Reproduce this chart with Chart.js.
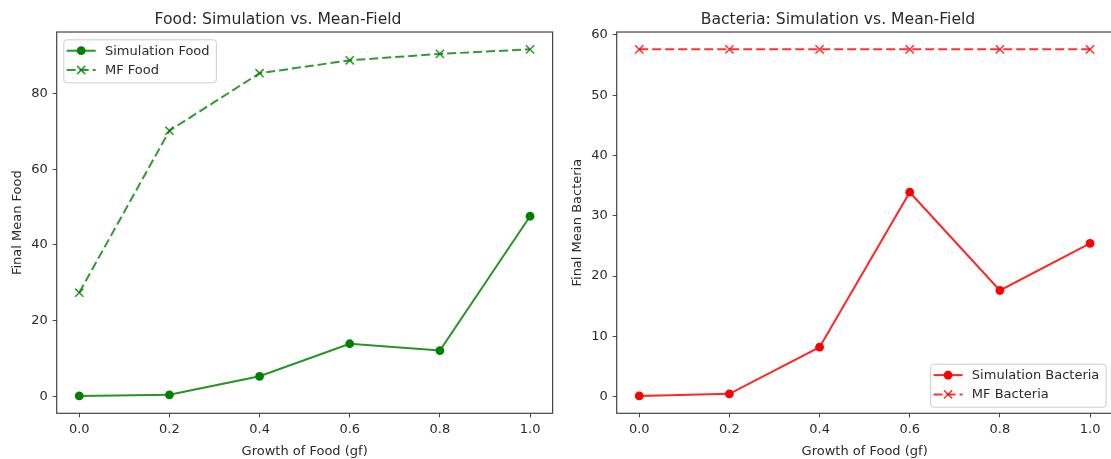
<!DOCTYPE html>
<html>
<head>
<meta charset="utf-8">
<script src="https://cdn.jsdelivr.net/npm/chart.js@4.4.0/dist/chart.umd.min.js"></script>
<style>
    body { margin: 0; background: #fff; overflow: hidden; width: 1111px; height: 459px; position: relative; }
    .box { position: absolute; top: 0; width: 560px; height: 459px; }
</style>
</head>
<body>
<div class="box" style="left:0"><canvas id="foodChart" width="560" height="459"></canvas></div>
<div class="box" style="left:560px"><canvas id="bacteriaChart" width="560" height="459"></canvas></div>
<script>
// growth of food values (x axis)
const gf = [0.0, 0.2, 0.4, 0.6, 0.8, 1.0]
const xTicks = [0.0, 0.2, 0.4, 0.6, 0.8, 1.0]

// values
const simFood = [0.1, 0.4, 5.3, 13.9, 12.1, 47.6]
const mfFood = [27.4, 70.2, 85.4, 88.8, 90.5, 91.7]
const simBacteria = [0.1, 0.45, 8.2, 33.9, 17.6, 25.4]
const mfBacteria = [57.6, 57.6, 57.6, 57.6, 57.6, 57.6]

const foodTicks = [0, 20, 40, 60, 80]
const bacteriaTicks = [0, 10, 20, 30, 40, 50, 60]

const textColor = "#2a2a2a"
const fontName = "'DejaVu Sans', sans-serif"

// pairs x with y so the linear x scale places the points
function points(ys){
    return gf.map((x, i) => ({x: x, y: ys[i]}))
}

// 5% padding like matplotlib autoscale
function padRange(a, b){
    let all = a.concat(b)
    let lo = Math.min(...all), hi = Math.max(...all)
    let pad = (hi - lo) * 0.05
    return [lo - pad, hi + pad]
}

// box around the whole plot area
const framePlugin = {
    id: "frame",
    afterDatasetsDraw(chart){
        let a = chart.chartArea, ctx = chart.ctx
        ctx.save()
        ctx.strokeStyle = "#444"
        ctx.lineWidth = 1.2
        ctx.strokeRect(a.left, a.top, a.right - a.left, a.bottom - a.top)
        ctx.restore()
    }
}

// legend drawn inside the plot area (top left or bottom right)
const boxLegend = {
    id: "boxLegend",
    afterDraw(chart, args, opts){
        let a = chart.chartArea, ctx = chart.ctx
        ctx.save()
        ctx.font = "13px " + fontName
        let sets = chart.data.datasets
        let textW = Math.max(...sets.map(d => ctx.measureText(d.label).width))
        let w = 42 + textW + 6, h = 43
        let x0, y0
        if (opts.corner == "tl"){
            x0 = a.left + 6.6
            y0 = a.top + 7.3
        } else {
            x0 = a.right - 7 - w
            y0 = a.bottom - 6.6 - h
        }
        ctx.fillStyle = "rgba(255,255,255,0.8)"
        ctx.strokeStyle = "#ccc"
        ctx.lineWidth = 1
        ctx.beginPath()
        ctx.roundRect(x0 + 0.5, y0 + 0.5, w, h, 3)
        ctx.fill()
        ctx.stroke()

        sets.forEach((d, i) => {
            let y = y0 + 11.4 + i * 19.3
            // line sample
            ctx.strokeStyle = d.borderColor
            ctx.lineWidth = d.borderWidth
            ctx.setLineDash(d.borderDash || [])
            ctx.beginPath()
            ctx.moveTo(x0 + 3.4, y)
            ctx.lineTo(x0 + 32.4, y)
            ctx.stroke()
            ctx.setLineDash([])
            // marker
            let mx = x0 + 17.9
            if (d.pointStyle == "circle"){
                ctx.fillStyle = d.pointBackgroundColor
                ctx.beginPath()
                ctx.arc(mx, y, d.pointRadius, 0, Math.PI * 2)
                ctx.fill()
            } else {
                let r = d.pointRadius * Math.SQRT1_2
                ctx.strokeStyle = d.pointBorderColor
                ctx.lineWidth = d.pointBorderWidth
                ctx.beginPath()
                ctx.moveTo(mx - r, y - r); ctx.lineTo(mx + r, y + r)
                ctx.moveTo(mx - r, y + r); ctx.lineTo(mx + r, y - r)
                ctx.stroke()
            }
            ctx.fillStyle = textColor
            ctx.textBaseline = "middle"
            ctx.textAlign = "left"
            ctx.fillText(d.label, x0 + 41.7, y + 0.5)
        })
        ctx.restore()
    }
}

function simSet(label, ys, col, line){
    return {
        label: label,
        data: points(ys),
        borderColor: line,
        borderWidth: 2,
        pointStyle: "circle",
        pointRadius: 4.4,
        pointBackgroundColor: col,
        pointBorderColor: col,
        pointBorderWidth: 0,
        pointHoverRadius: 4.4,
        tension: 0
    }
}

function mfSet(label, ys, line){
    return {
        label: label,
        data: points(ys),
        borderColor: line,
        borderWidth: 2,
        borderDash: [9, 4],
        pointStyle: "crossRot",
        pointRadius: 5.8,
        pointBackgroundColor: line,
        pointBorderColor: line,
        pointBorderWidth: 1.6,
        tension: 0
    }
}

function makeChart(id, title, yTitle, datasets, yTicks, yRange, corner){
    return new Chart(id, {
        type: "line",
        data: { datasets: datasets },
        options: {
            responsive: false,
            animation: false,
            devicePixelRatio: 1,
            layout: { padding: { left: 0, right: 4, top: 0, bottom: 0 } },
            clip: false,
            plugins: {
                legend: { display: false },
                tooltip: { enabled: false },
                title: {
                    display: true,
                    text: title,
                    color: textColor,
                    font: { family: fontName, size: 15.6, weight: "normal" },
                    padding: { top: 11, bottom: 2.3 }
                },
                boxLegend: { corner: corner }
            },
            scales: {
                x: {
                    type: "linear",
                    min: -0.05,
                    max: 1.05,
                    afterBuildTicks: axis => { axis.ticks = xTicks.map(v => ({value: v})) },
                    afterFit: scale => { scale.height = 45.7 },
                    ticks: {
                        color: textColor,
                        font: { family: fontName, size: 13 },
                        padding: 5,
                        maxRotation: 0,
                        callback: v => v.toFixed(1)
                    },
                    grid: { drawOnChartArea: false, drawTicks: true, tickLength: 4, color: "#444" },
                    border: { display: false },
                    title: {
                        display: true,
                        text: "Growth of Food (gf)",
                        color: textColor,
                        font: { family: fontName, size: 13 },
                        padding: { top: 0, bottom: 0 }
                    }
                },
                y: {
                    type: "linear",
                    min: yRange[0],
                    max: yRange[1],
                    afterBuildTicks: axis => { axis.ticks = yTicks.map(v => ({value: v})) },
                    afterFit: scale => { scale.width = 56.7 },
                    ticks: {
                        color: textColor,
                        font: { family: fontName, size: 13 },
                        padding: 5,
                        callback: v => String(v)
                    },
                    grid: { drawOnChartArea: false, drawTicks: true, tickLength: 4, color: "#444" },
                    border: { display: false },
                    title: {
                        display: true,
                        text: yTitle,
                        color: textColor,
                        font: { family: fontName, size: 13 },
                        padding: { top: 9.5, bottom: 4 }
                    }
                }
            }
        },
        plugins: [framePlugin, boxLegend]
    })
}

makeChart("foodChart", "Food: Simulation vs. Mean-Field", "Final Mean Food", [
    simSet("Simulation Food", simFood, "#008000", "rgba(0,128,0,0.85)"),
    mfSet("MF Food", mfFood, "rgba(0,128,0,0.8)")
], foodTicks, padRange(simFood, mfFood), "tl")

makeChart("bacteriaChart", "Bacteria: Simulation vs. Mean-Field", "Final Mean Bacteria", [
    simSet("Simulation Bacteria", simBacteria, "#ff0000", "rgba(255,0,0,0.85)"),
    mfSet("MF Bacteria", mfBacteria, "rgba(255,0,0,0.8)")
], bacteriaTicks, padRange(simBacteria, mfBacteria), "br")
</script>
</body>
</html>
